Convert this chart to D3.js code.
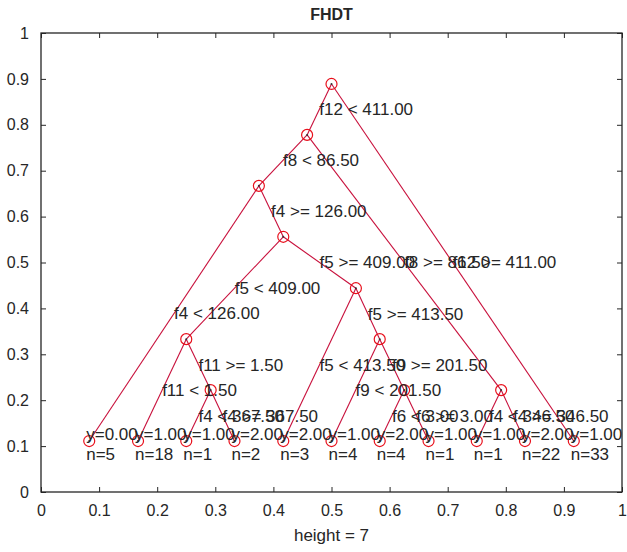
<!DOCTYPE html>
<html>
<head>
<meta charset="utf-8">
<script src="https://cdn.jsdelivr.net/npm/d3@7"></script>
<style>
  body { margin: 0; background: #fff; }
  text { font-family: "Liberation Sans", Arial, sans-serif; fill: #262626; }
</style>
</head>
<body>
<div id="chart"></div>
<script>
var svgWidth = 627;
var svgHeight = 552;

var margin = { top: 33, right: 5, bottom: 60, left: 41 };
var width = 622 - margin.left;
var height = 492 - margin.top;

// tree nodes (internal first, then leaves), positions in axis units
var nodeX = [0.5, 0.458, 0.375, 0.417, 0.25, 0.542, 0.292, 0.583, 0.625, 0.792,
  0.083, 0.167, 0.25, 0.333, 0.417, 0.5, 0.583, 0.667, 0.75, 0.833, 0.917];
var nodeY = [0.889, 0.778, 0.667, 0.556, 0.333, 0.444, 0.222, 0.333, 0.222, 0.222,
  0.111, 0.111, 0.111, 0.111, 0.111, 0.111, 0.111, 0.111, 0.111, 0.111, 0.111];
var parent = [-1, 0, 1, 2, 3, 3, 4, 5, 7, 1,
  2, 4, 6, 6, 5, 7, 8, 8, 9, 9, 0];
var edgeLabels = ["", "f12 < 411.00", "f8 < 86.50", "f4 >= 126.00", "f5 < 409.00",
  "f5 >= 409.00", "f11 >= 1.50", "f5 >= 413.50", "f9 >= 201.50", "f8 >= 86.50",
  "f4 < 126.00", "f11 < 1.50", "f4 < 367.50", "f4 >= 367.50", "f5 < 413.50",
  "f9 < 201.50", "f6 < 3.00", "f6 >= 3.00", "f4 < 346.50", "f4 >= 346.50", "f12 >= 411.00"];

// leaf labels
var leafY = ["0.00", "1.00", "1.00", "2.00", "2.00", "1.00", "2.00", "1.00", "1.00", "2.00", "1.00"];
var leafN = [5, 18, 1, 2, 3, 4, 4, 1, 1, 22, 33];
var firstLeaf = 10;

var tickValues = [0, 0.1, 0.2, 0.3, 0.4, 0.5, 0.6, 0.7, 0.8, 0.9, 1];
var tickLabels = ["0", "0.1", "0.2", "0.3", "0.4", "0.5", "0.6", "0.7", "0.8", "0.9", "1"];

var svg = d3.select("#chart")
  .append("svg")
  .attr("width", svgWidth)
  .attr("height", svgHeight);

var chartGroup = svg.append("g")
  .attr("transform", `translate(${margin.left}, ${margin.top})`);

var xScale = d3.scaleLinear().domain([0, 1]).range([0, width]);
var yScale = d3.scaleLinear().domain([0, 1]).range([height, 0]);

var fmt = (d, i) => tickLabels[i];

// axes: ticks point inward, box drawn separately
function styleAxis(g) {
  g.select(".domain").remove();
  g.selectAll(".tick line").attr("stroke", "#262626");
  g.selectAll(".tick text")
    .attr("font-size", 16)
    .attr("font-family", "Liberation Sans, Arial, sans-serif")
    .attr("fill", "#262626");
}

chartGroup.append("g")
  .attr("transform", `translate(0, ${height})`)
  .call(d3.axisBottom(xScale).tickValues(tickValues).tickFormat(fmt)
    .tickSizeInner(-5).tickSizeOuter(0).tickPadding(13))
  .call(styleAxis);

chartGroup.append("g")
  .call(d3.axisTop(xScale).tickValues(tickValues).tickFormat("")
    .tickSizeInner(-5).tickSizeOuter(0))
  .call(styleAxis);

chartGroup.append("g")
  .call(d3.axisLeft(yScale).tickValues(tickValues).tickFormat(fmt)
    .tickSizeInner(-5).tickSizeOuter(0).tickPadding(12))
  .call(styleAxis);

chartGroup.append("g")
  .attr("transform", `translate(${width}, 0)`)
  .call(d3.axisRight(yScale).tickValues(tickValues).tickFormat("")
    .tickSizeInner(-5).tickSizeOuter(0))
  .call(styleAxis);

chartGroup.append("rect")
  .attr("width", width)
  .attr("height", height)
  .attr("fill", "none")
  .attr("stroke", "#262626")
  .attr("stroke-width", 1.3);

var nodes = nodeX.map((x, i) => ({ id: i, x: x, y: nodeY[i], parent: parent[i], label: edgeLabels[i] }));
var edges = nodes.filter(d => d.parent >= 0);

// edges
chartGroup.selectAll("line.edge")
  .data(edges)
  .enter()
  .append("line")
  .attr("class", "edge")
  .attr("x1", d => xScale(nodes[d.parent].x))
  .attr("y1", d => yScale(nodes[d.parent].y))
  .attr("x2", d => xScale(d.x))
  .attr("y2", d => yScale(d.y))
  .attr("stroke", "#c8103c")
  .attr("stroke-width", 1.1);

// node markers
chartGroup.selectAll("circle.node")
  .data(nodes)
  .enter()
  .append("circle")
  .attr("class", "node")
  .attr("cx", d => xScale(d.x))
  .attr("cy", d => yScale(d.y))
  .attr("r", 5.5)
  .attr("fill", "none")
  .attr("stroke", "#e8101c")
  .attr("stroke-width", 1.2);

// small dark point in each marker
chartGroup.selectAll("circle.dot")
  .data(nodes)
  .enter()
  .append("circle")
  .attr("class", "dot")
  .attr("cx", d => xScale(d.x))
  .attr("cy", d => yScale(d.y))
  .attr("r", 1)
  .attr("fill", "#333");

// edge labels at edge midpoints
chartGroup.selectAll("text.edge-label")
  .data(edges)
  .enter()
  .append("text")
  .attr("class", "edge-label")
  .attr("x", d => (xScale(nodes[d.parent].x) + xScale(d.x)) / 2)
  .attr("y", d => (yScale(nodes[d.parent].y) + yScale(d.y)) / 2)
  .attr("dy", "0.35em")
  .attr("font-size", 17)
  .text(d => d.label);

// leaf labels
var leaves = nodes.slice(firstLeaf);
chartGroup.selectAll("text.leaf-y")
  .data(leaves)
  .enter()
  .append("text")
  .attr("class", "leaf-y")
  .attr("x", d => xScale(d.x) - 3)
  .attr("y", d => yScale(d.y) - 7)
  .attr("dy", "0.35em")
  .attr("font-size", 17)
  .text((d, i) => "y=" + leafY[i]);

chartGroup.selectAll("text.leaf-n")
  .data(leaves)
  .enter()
  .append("text")
  .attr("class", "leaf-n")
  .attr("x", d => xScale(d.x) - 3)
  .attr("y", d => yScale(d.y) + 13)
  .attr("dy", "0.35em")
  .attr("font-size", 17)
  .text((d, i) => "n=" + leafN[i]);

// title and x label
svg.append("text")
  .attr("x", margin.left + width / 2)
  .attr("y", 20)
  .attr("text-anchor", "middle")
  .attr("font-size", 16)
  .attr("font-weight", "bold")
  .text("FHDT");

svg.append("text")
  .attr("x", margin.left + width / 2)
  .attr("y", 541)
  .attr("text-anchor", "middle")
  .attr("font-size", 17)
  .text("height = 7");
</script>
</body>
</html>
